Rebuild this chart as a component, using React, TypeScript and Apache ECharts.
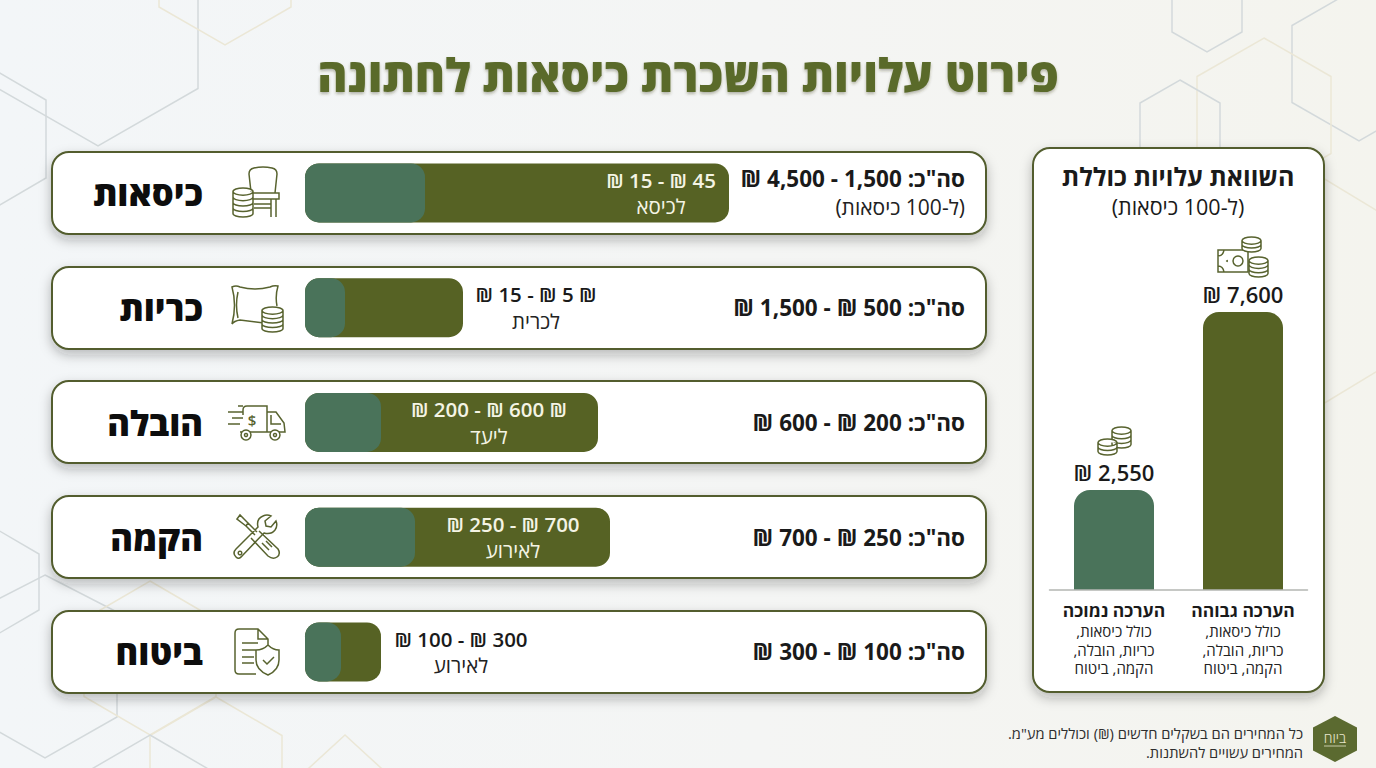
import React, { useEffect, useRef } from 'react';
import * as echarts from 'echarts';

// chart values
const categories = ['כיסאות', 'כריות', 'הובלה', 'הקמה', 'ביטוח'];
// the bars in the picture are not to scale with their labels, so these are the drawn lengths
const highBarLengths = [424, 158, 293, 305, 76];
const lowBarLengths = [120, 40, 76, 110, 36];
const unitLabels = ['45 ₪ - 15 ₪', '₪ 5 ₪ - 15 ₪', '₪ 600 ₪ - 200 ₪', '700 ₪ - 250 ₪', '300 ₪ - 100 ₪'];
const unitNotes = ['לכיסא', 'לכרית', 'ליעד', 'לאירוע', 'לאירוע'];
const totalLabels = [
  'סה"כ: 1,500 - 4,500 ₪',
  'סה"כ: 500 ₪ - 1,500 ₪',
  'סה"כ: 200 ₪ - 600 ₪',
  'סה"כ: 250 ₪ - 700 ₪',
  'סה"כ: 100 ₪ - 300 ₪',
];
const totalNotes = ['(ל-100 כיסאות)', '', '', '', ''];

const compareCategories = ['הערכה נמוכה', 'הערכה גבוהה'];
const compareLabels = ['2,550 ₪', '7,600 ₪'];
const compareBarLengths = [100, 278];
const compareNote = ['כולל כיסאות,', 'כריות, הובלה,', 'הקמה, ביטוח'];

const TITLE = 'פירוט עלויות השכרת כיסאות לחתונה';
const PANEL_TITLE = 'השוואת עלויות כוללת';
const PANEL_NOTE = '(ל-100 כיסאות)';
const FOOTNOTES = ['כל המחירים הם בשקלים חדשים (₪) וכוללים מע"מ.', 'המחירים עשויים להשתנות.'];

// layout and style
const FONT = '"Open Sans", "Liberation Sans", sans-serif';
const OLIVE = '#566224';
const GREEN = '#4a735a';
const BORDER = '#525d2e';
const ICON = '#58632f';
const GRAY_LINE = '#d3d9db';
const CREAM_LINE = '#ebe7d6';
const cardTops = [152, 267, 381, 496, 611];
const labelOffsets = [-68, 73, -109, -97, 80];
const outsideBar = [false, true, false, false, true];

const hex = (cx: number, cy: number, w: number, r: number) => [
  [cx, cy - r], [cx + w, cy - r / 2], [cx + w, cy + r / 2],
  [cx, cy + r], [cx - w, cy + r / 2], [cx - w, cy - r / 2],
];

const backgroundHexes = [
  { points: hex(98, 31, 100, 115), stroke: GRAY_LINE },
  { points: hex(-21, 139, 67, 78), stroke: GRAY_LINE },
  { points: hex(225, -31, 66, 76), stroke: CREAM_LINE },
  { points: hex(1207, 12, 35, 40), stroke: GRAY_LINE },
  { points: hex(1359, 64, 67, 77), stroke: GRAY_LINE },
  { points: hex(1264, 115, 67, 77), stroke: CREAM_LINE },
  { points: hex(1180, 126, 40, 46), stroke: GRAY_LINE },
  { points: hex(1280, 291, 115, 139), stroke: CREAM_LINE },
  { points: hex(-9, 582, 48, 56), stroke: GRAY_LINE },
  { points: [[45, 575], [117, 612], [117, 717], [45, 758], [-27, 717], [-27, 612]], stroke: GRAY_LINE },
  { points: hex(150, 658, 66, 77), stroke: CREAM_LINE },
  { points: hex(216, 774, 66, 77), stroke: CREAM_LINE },
  { points: hex(150, 812, 66, 77), stroke: GRAY_LINE },
  { points: hex(345, 812, 42, 77), stroke: CREAM_LINE },
];

// coin stack outline, drawn in page pixels
const coins = (x: number, top: number, w: number, h: number, bands: number) => {
  const rx = w / 2;
  const ry = Math.min(3.6, h / 4);
  const bottom = top + h - ry;
  let d = `M${x} ${top + ry}L${x} ${bottom}A${rx} ${ry} 0 0 0 ${x + w} ${bottom}L${x + w} ${top + ry}`;
  d += `M${x} ${top + ry}A${rx} ${ry} 0 1 1 ${x + w} ${top + ry}A${rx} ${ry} 0 1 1 ${x} ${top + ry}Z`;
  for (let i = 1; i < bands; i++) {
    const y = top + ry + ((bottom - top - ry) * i) / bands;
    d += `M${x} ${y}A${rx} ${ry} 0 0 0 ${x + w} ${y}`;
  }
  return d;
};

const iconLines: Record<string, string> = {
  chair:
    'M251 192L249 174Q249 169 254 168Q263 166 272 168Q277 169 277 174L275 193' +
    'M253 193L279 193L279 199L253 199' +
    'M271 199L271 217M276 199L276 217M254 204L271 204M254 208L271 208',
  pillow:
    'M264 323L240 320Q234 321 232 324Q237 305 232 287Q236 285 240 287Q255 291 270 287Q274 285 278 286Q275 296 277 306' +
    'M238 292Q235 305 238 318',
  truck:
    'M243 415L243 410Q243 406 247 406L267 406L267 432L280 432M240 432L243 432M250 432L268 432' +
    'M267 412L276 412L284 423L285 432L280 432M271 415L271 424L281 424' +
    'M228 412L243 412M232 418L243 418M228 424L240 424M238 406L243 406',
  tools:
    'M237 519L240 515L248 523L246 526ZM248 523L257 532M246 526L255 535' +
    'M259 531L278 549Q281 554 277 557Q273 560 268 556L251 538' +
    'M266 541L272 547M262 543L269 550' +
    'M236 549L258 527Q256 519 263 516Q267 514 271 516L265 521L266 526L271 527L276 521Q278 526 275 530Q271 535 264 533L242 556' +
    'M236 549Q232 553 236 557Q239 560 242 556',
  shield:
    'M256 674L239 674Q235 674 235 670L235 633Q235 629 239 629L258 629L268 639L268 645M258 629L258 639L268 639' +
    'M242 643L258 643M242 650L256 650M242 657L254 657M242 663L254 663' +
    'M268 645Q273 650 279 650L279 660Q279 670 268 675Q256 670 256 660L256 650Q263 650 268 645Z' +
    'M263 660L267 664L274 657',
  money:
    'M1218 250L1248 250L1248 272L1218 272Z' +
    'M1218 256Q1223 256 1224 250M1218 266Q1223 266 1224 272',
};

const iconStacks: Array<[number, number, number, number, number]> = [
  [233, 188, 20, 29, 4],
  [262, 307, 21, 25, 4],
  [1242, 237, 19, 15, 2],
  [1249, 257, 19, 20, 3],
  [1112, 427, 19, 21, 3],
  [1098, 439, 19, 16, 2],
];

Object.keys(iconLines).forEach((name) => {
  echarts.graphic.registerShape(name, echarts.graphic.extendPath(iconLines[name], {}));
});
iconStacks.forEach((s, i) => {
  echarts.graphic.registerShape(`stack${i}`, echarts.graphic.extendPath(coins(s[0], s[1], s[2], s[3], s[4]), {}));
});

const text = (x: number, y: number, value: string, fontSize: number, extra: any = {}) => ({
  type: 'text',
  x,
  y,
  z: 5,
  style: {
    text: value,
    fontFamily: FONT,
    fontSize,
    align: 'center',
    verticalAlign: 'middle',
    fill: '#1a1a1a',
    ...extra,
  },
});

const buildGraphic = () => {
  const card = (x: number, y: number, width: number, height: number, r: number) => ({
    type: 'rect',
    z: 1,
    shape: { x, y, width, height, r },
    style: {
      fill: '#fff',
      stroke: BORDER,
      lineWidth: 2,
      shadowBlur: 12,
      shadowOffsetY: 5,
      shadowColor: 'rgba(40,40,30,0.28)',
    },
  });
  const iconStyle = { fill: 'none', stroke: ICON, lineWidth: 1.5 };
  return [
    ...backgroundHexes.map((h) => ({
      type: 'polygon',
      z: 0,
      shape: { points: h.points },
      style: { fill: 'none', stroke: h.stroke, lineWidth: 1.5 },
    })),
    ...cardTops.map((top) => card(52, top, 934, 82, 17)),
    card(1033, 148, 291, 544, 17),

    ...Object.keys(iconLines).map((name) => ({ type: name, z: 5, style: iconStyle })),
    { type: 'circle', z: 5, shape: { cx: 1238, cy: 261, r: 5 }, style: iconStyle },
    { type: 'circle', z: 5, shape: { cx: 1227, cy: 261, r: 1 }, style: { fill: ICON } },
    { type: 'circle', z: 5, shape: { cx: 246, cy: 435, r: 5 }, style: { ...iconStyle, fill: '#fff' } },
    { type: 'circle', z: 5, shape: { cx: 275, cy: 435, r: 5 }, style: { ...iconStyle, fill: '#fff' } },
    { type: 'circle', z: 5, shape: { cx: 246, cy: 435, r: 1.5 }, style: iconStyle },
    { type: 'circle', z: 5, shape: { cx: 275, cy: 435, r: 1.5 }, style: iconStyle },
    { type: 'circle', z: 5, shape: { cx: 240, cy: 553, r: 1.8 }, style: iconStyle },
    ...iconStacks.map((_, i) => ({
      type: `stack${i}`,
      z: 6,
      style: { fill: '#fff', stroke: ICON, lineWidth: 1.5 },
    })),
    text(252, 420, '$', 15, { fill: ICON, fontWeight: 600 }),

    text(688, 74, TITLE, 46, {
      fontWeight: 800,
      fill: '#5a6a2a',
      textShadowColor: 'rgba(60,60,30,0.35)',
      textShadowBlur: 3,
      textShadowOffsetY: 2,
    }),
    text(1178, 176, PANEL_TITLE, 25, { fontWeight: 700 }),
    text(1178, 206, PANEL_NOTE, 21.5),

    // the container is rtl: anchor "left" starts at x and runs leftwards
    text(1303, 733, FOOTNOTES[0], 14.7, { align: 'left', fill: '#2e2e2e' }),
    text(1303, 752, FOOTNOTES[1], 14.7, { align: 'left', fill: '#2e2e2e' }),

    { type: 'polygon', z: 5, shape: { points: hex(1335, 739, 22, 23) }, style: { fill: '#5b6a30' } },
    text(1335, 737, 'ביוח', 14, { fill: '#e8e6cc', fontWeight: 300 }),
    { type: 'line', z: 6, shape: { x1: 1324, y1: 746, x2: 1346, y2: 746 }, style: { stroke: '#c9cba8', lineWidth: 1 } },
  ];
};

export default function App() {
  const chartRef = useRef<HTMLDivElement>(null);

  useEffect(() => {
    document.body.style.margin = '0';
    if (!chartRef.current) return () => {};
    const chart = echarts.init(chartRef.current, null, { renderer: 'svg', width: 1376, height: 768 });

    const option: any = {
      animation: false,
      backgroundColor: new echarts.graphic.LinearGradient(0, 0, 1, 0, [
        { offset: 0, color: '#f3f6f8' },
        { offset: 0.55, color: '#f4f5f4' },
        { offset: 1, color: '#f4f4ee' },
      ]),
      textStyle: { fontFamily: FONT },
      graphic: { elements: buildGraphic() },
      grid: [
        { left: 305, width: 680, top: 135.6, height: 573.75 },
        { left: 1049.5, width: 258, top: 312, height: 278 },
      ],
      xAxis: [
        { type: 'value', gridIndex: 0, min: 0, max: 680, show: false },
        {
          type: 'category',
          gridIndex: 1,
          z: 3,
          data: compareCategories,
          axisTick: { show: false },
          axisLine: { lineStyle: { color: '#b4b7b3', width: 1.5 } },
          axisLabel: {
            margin: 7,
            interval: 0,
            align: 'center',
            formatter: (value: string) =>
              [`{head|${value}}`, ...compareNote.map((line) => `{note|${line}}`)].join('\n'),
            rich: {
              head: { fontFamily: FONT, fontSize: 17.5, fontWeight: 700, lineHeight: 25, color: '#1a1a1a', align: 'center' },
              note: { fontFamily: FONT, fontSize: 15, lineHeight: 18.5, color: '#222', align: 'center' },
            },
          },
        },
      ],
      yAxis: [
        {
          type: 'category',
          gridIndex: 0,
          z: 3,
          inverse: true,
          data: categories,
          axisLine: { show: false },
          axisTick: { show: false },
          axisLabel: {
            margin: 102,
            align: 'left',
            fontFamily: FONT,
            fontSize: 34.5,
            fontWeight: 800,
            color: '#0d0d0d',
          },
        },
        {
          type: 'category',
          gridIndex: 0,
          z: 3,
          position: 'right',
          inverse: true,
          data: totalLabels,
          axisLine: { show: false },
          axisTick: { show: false },
          axisLabel: {
            inside: true,
            margin: 20,
            align: 'left',
            formatter: (value: string, index: number) =>
              totalNotes[index] ? `{total|${value}}\n{note|${totalNotes[index]}}` : `{total|${value}}`,
            rich: {
              total: { fontFamily: FONT, fontSize: 22.5, fontWeight: 700, lineHeight: 28, color: '#1a1a1a', align: 'left' },
              note: { fontFamily: FONT, fontSize: 21, lineHeight: 28, color: '#222', align: 'left' },
            },
          },
        },
        { type: 'value', gridIndex: 1, min: 0, max: 278, show: false },
      ],
      series: [
        {
          name: 'high',
          type: 'bar',
          xAxisIndex: 0,
          yAxisIndex: 0,
          barWidth: 59,
          barGap: '-100%',
          itemStyle: { color: OLIVE, borderRadius: 14 },
          label: {
            show: true,
            position: 'right',
            distance: 0,
            align: 'center',
            verticalAlign: 'middle',
            formatter: (p: any) => {
              const suffix = outsideBar[p.dataIndex] ? 'Dark' : '';
              return `{unit${suffix}|${unitLabels[p.dataIndex]}}\n{sub${suffix}|${unitNotes[p.dataIndex]}}`;
            },
            rich: {
              unit: { fontFamily: FONT, fontSize: 20.5, fontWeight: 600, lineHeight: 26.5, color: '#f4f4e4', align: 'center' },
              sub: { fontFamily: FONT, fontSize: 20.5, lineHeight: 26.5, color: '#f4f4e4', align: 'center' },
              unitDark: { fontFamily: FONT, fontSize: 20.5, fontWeight: 600, lineHeight: 26.5, color: '#1a1a1a', align: 'center' },
              subDark: { fontFamily: FONT, fontSize: 20.5, lineHeight: 26.5, color: '#222', align: 'center' },
            },
          },
          data: highBarLengths.map((value, i) => ({ value, label: { offset: [labelOffsets[i], 0] } })),
        },
        {
          name: 'low',
          type: 'bar',
          xAxisIndex: 0,
          yAxisIndex: 0,
          barWidth: 59,
          barGap: '-100%',
          itemStyle: { color: GREEN, borderRadius: 14 },
          data: lowBarLengths,
        },
        {
          name: 'total',
          type: 'bar',
          xAxisIndex: 1,
          yAxisIndex: 2,
          barWidth: 80,
          label: {
            show: true,
            position: 'top',
            distance: 7,
            fontFamily: FONT,
            fontSize: 22,
            fontWeight: 600,
            color: '#1a1a1a',
            formatter: (p: any) => compareLabels[p.dataIndex],
          },
          data: compareBarLengths.map((value, i) => ({
            value,
            itemStyle: { color: i === 0 ? GREEN : OLIVE, borderRadius: [16, 16, 0, 0] },
          })),
        },
      ],
    };

    chart.setOption(option);

    return () => {
      chart.dispose();
    };
  }, []);

  return <div ref={chartRef} dir="rtl" style={{ width: 1376, height: 768 }} />;
}
